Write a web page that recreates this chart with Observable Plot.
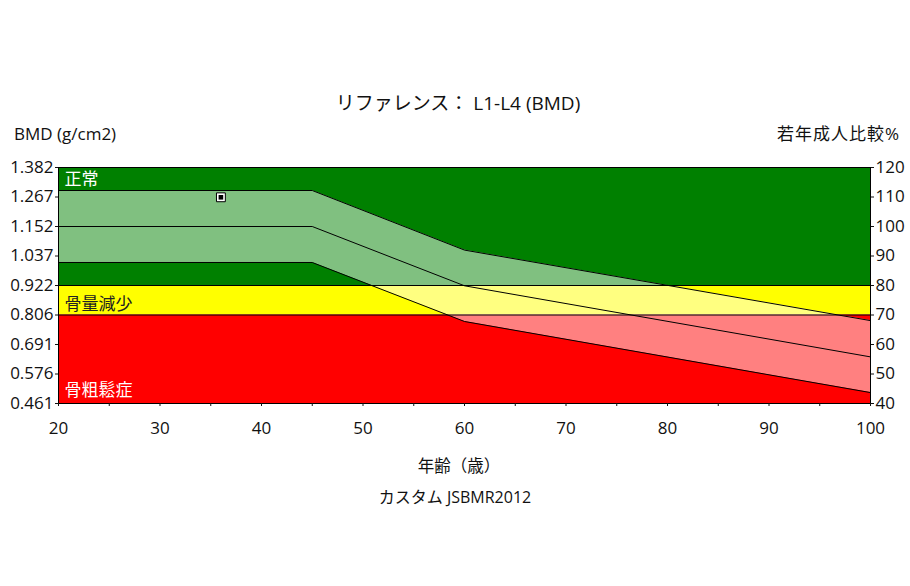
<!DOCTYPE html>
<html>
<head>
<meta charset="utf-8">
<script src="https://cdn.jsdelivr.net/npm/d3@7"></script>
<script src="https://cdn.jsdelivr.net/npm/@observablehq/plot@0.6"></script>
<style>
  html, body { margin: 0; padding: 0; background: #fff; }
  #wrap { position: relative; width: 910px; height: 586px; overflow: hidden;
          font-family: "Open Sans", "Noto Sans CJK JP", sans-serif; color: #111; }
  .lbl { position: absolute; line-height: 1; white-space: nowrap; transform: translateY(-50%); }
  #chart { position: absolute; left: 0; top: 0; }
</style>
</head>
<body>
<div id="wrap">
  <div id="chart"></div>
  <div class="lbl" style="left:0;width:916px;text-align:center;top:103px;font-size:19px;">リファレンス： L1-L4 (BMD)</div>
  <div class="lbl" style="left:14px;top:133px;font-size:17px;">BMD (g/cm2)</div>
  <div class="lbl" style="right:10px;top:133px;font-size:17px;letter-spacing:1px;">若年成人比較%</div>
  <div class="lbl" style="left:0;width:918px;text-align:center;top:466px;font-size:16.5px;">年齢（歳）</div>
  <div class="lbl" style="left:0;width:910px;text-align:center;top:497px;font-size:16px;">カスタム JSBMR2012</div>
</div>
<script>
// ---- data ----
const ages = [20, 45, 60, 100];
const meanPct = [100, 100, 79.9, 55.8];
const upperPct = [112.2, 112.2, 92.0, 68.1];
const lowerPct = [87.8, 87.8, 67.8, 43.7];

const zoneNames = ["正常", "骨量減少", "骨粗鬆症"];
const zoneLow = [80, 70, 40];
const zoneHigh = [120, 80, 70];
const zoneColors = ["#008000", "#ffff00", "#ff0000"];
const zoneTextColors = ["#ffffff", "#222222", "#ffffff"];
const zoneLabelPct = [115.8, 73.4, 44.4];

const patientAge = [36];
const patientPct = [109.9];

const pctTicks = [40, 50, 60, 70, 80, 90, 100, 110, 120];
const bmdTickLabels = ["0.461", "0.576", "0.691", "0.806", "0.922", "1.037", "1.152", "1.267", "1.382"];
const ageTicks = [20, 30, 40, 50, 60, 70, 80, 90, 100];
const ageMinorTicks = [25, 35, 45, 55, 65, 75, 85, 95];

// ---- tables ----
const curve = ages.map((a, i) => ({age: a, mean: meanPct[i], up: upperPct[i], lo: lowerPct[i]}));
const zones = zoneNames.map((n, i) => ({name: n, lo: zoneLow[i], hi: zoneHigh[i], color: zoneColors[i], tc: zoneTextColors[i], ly: zoneLabelPct[i]}));
const patient = patientAge.map((a, i) => ({age: a, pct: patientPct[i]}));
const bmdLabel = new Map(pctTicks.map((t, i) => [t, bmdTickLabels[i]]));

const chart = Plot.plot({
  width: 910,
  height: 586,
  marginLeft: 58,
  marginRight: 40,
  marginTop: 167,
  marginBottom: 183,
  style: {fontFamily: "'Open Sans','Noto Sans CJK JP',sans-serif", fontSize: "17px", color: "#111", background: "transparent"},
  x: {domain: [20, 100]},
  y: {domain: [40, 120]},
  marks: [
    Plot.rect(zones, {x1: 20, x2: 100, y1: "lo", y2: "hi", fill: "color"}),
    Plot.areaY(curve, {x: "age", y1: "lo", y2: "up", fill: "white", fillOpacity: 0.5}),
    Plot.ruleY([70, 80], {stroke: "black", strokeWidth: 1}),
    Plot.line(curve, {x: "age", y: "up", stroke: "black", strokeWidth: 1}),
    Plot.line(curve, {x: "age", y: "mean", stroke: "black", strokeWidth: 1}),
    Plot.line(curve, {x: "age", y: "lo", stroke: "black", strokeWidth: 1}),
    Plot.frame({stroke: "black", strokeWidth: 1}),
    Plot.text(zones, {x: 20, y: "ly", text: "name", fill: "tc", textAnchor: "start", dx: 6, fontSize: 17}),
    Plot.dot(patient, {x: "age", y: "pct", symbol: "square", r: 5, fill: "white", stroke: "black", strokeWidth: 1}),
    Plot.dot(patient, {x: "age", y: "pct", symbol: "square", r: 2.6, fill: "black"}),
    Plot.axisY(pctTicks, {anchor: "left", tickSize: 3, tickPadding: 2, fontSize: 17, tickFormat: d => bmdLabel.get(d), label: null}),
    Plot.axisY(pctTicks, {anchor: "right", tickSize: 3, tickPadding: 2, fontSize: 17, tickFormat: d => String(d), label: null}),
    Plot.axisX(ageTicks, {anchor: "bottom", tickSize: 3, tickPadding: 15, fontSize: 17, tickFormat: d => String(d), label: null}),
    Plot.axisX(ageMinorTicks, {anchor: "bottom", tickSize: 3, tickFormat: () => "", label: null})
  ]
});
document.getElementById("chart").appendChild(chart);
</script>
</body>
</html>
